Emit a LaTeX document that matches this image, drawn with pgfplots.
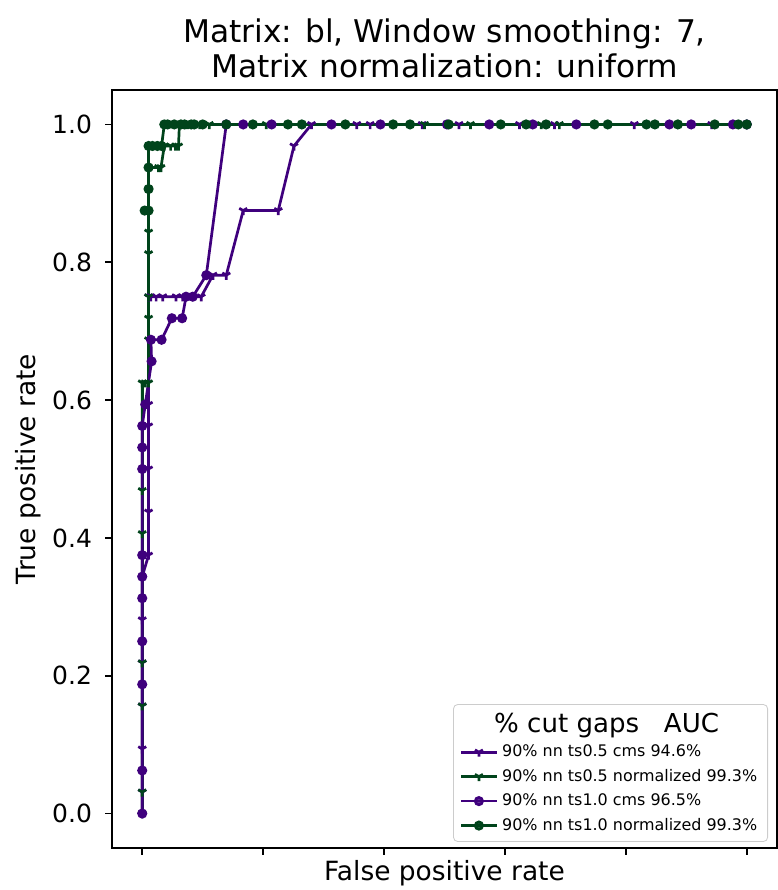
\documentclass[border=0pt]{standalone}
\usepackage{fontspec}
\setmainfont{DejaVu Sans}
\usepackage{pgfplots}
\pgfplotsset{compat=1.18}
\usetikzlibrary{plotmarks}
\definecolor{cpurple}{HTML}{3F007D}
\definecolor{cgreen}{HTML}{00441B}
\begin{document}
\begin{tikzpicture}
\useasboundingbox (-53.76pt,-20.16pt) rectangle (319.68pt,407.04pt);
\begin{axis}[
  at={(0,0)}, anchor=south west,
  scale only axis, width=319.2pt, height=363.84pt,
  xmin=-0.05, xmax=1.05, ymin=-0.05, ymax=1.05,
  xtick={0,0.2,0.4,0.6,0.8,1}, xticklabels={},
  ytick={0,0.2,0.4,0.6,0.8,1},
  /pgf/number format/assume math mode=true,
  yticklabel style={/pgf/number format/fixed, /pgf/number format/fixed zerofill, /pgf/number format/precision=1, font=\fontsize{12}{14}\selectfont, inner sep=0pt, xshift=-6.2pt},
  tick align=outside, tick pos=left, major tick length=3.2pt,
  every tick/.style={black, line width=0.8pt},
  axis line style={line width=0.8pt},
  title={Matrix: bl, Window smoothing: 7,\\Matrix normalization: uniform},
  title style={align=center, font=\fontsize{15}{16.8}\selectfont, at={(0.5,1)}, anchor=south, yshift=-0.2pt, inner sep=0pt},
  xlabel={False positive rate},
  xlabel style={at={(axis description cs:0.5,0)}, anchor=center, yshift=-12pt, font=\fontsize{12.7}{15}\selectfont},
  ylabel={True positive rate},
  ylabel style={at={(axis description cs:-0.1263,0.5)}, anchor=center, font=\fontsize{12.7}{15}\selectfont},
  legend style={at={(0.9865,0.008)}, anchor=south east, draw=black!20, rounded corners=2pt, fill=white, fill opacity=0.8, text opacity=1, font=\fontsize{7.65}{9}\selectfont, row sep=0.5pt},
  legend cell align=left,
  every axis plot/.append style={line width=1.3pt},
  tri/.style={mark=Mercedes star flipped, mark size=2.2pt},
  circ/.style={mark=*, mark size=1.75pt},
]
% lower part of green circle series (drawn first)
\addplot[cgreen, forget plot] coordinates {(0,0) (0,0.625) (0.0105,0.625) (0.0105,0.875)};
% ts0.5 cms
\addplot[cpurple, tri, forget plot] coordinates {
(0,0) (0,0.03125) (0,0.09375) (0,0.15625) (0,0.21875) (0,0.28125) (0,0.34375)
(0.0105,0.375) (0.0105,0.4375) (0.0105,0.5) (0.0105,0.5625) (0.0105,0.59375) (0.0105,0.75)
(0.014,0.75) (0.023,0.75) (0.034,0.75) (0.056,0.75) (0.067,0.75) (0.0975,0.75)
(0.117,0.78125) (0.139,0.78125) (0.167,0.875) (0.225,0.875) (0.251,0.96875) (0.28,1)
(0.355,1) (0.377,1) (0.463,1) (0.524,1) (0.624,1) (0.682,1) (0.814,1) (0.942,1) (1,1)};
% ts0.5 normalized
\addplot[cgreen, tri, forget plot] coordinates {
(0,0) (0,0.03125) (0,0.15625) (0,0.21875) (0,0.40625) (0,0.46875) (0,0.625) (0.005,0.625)
(0.0105,0.625) (0.0105,0.6875) (0.0105,0.71875) (0.0105,0.75) (0.0105,0.8125) (0.0105,0.84375)
(0.0105,0.90625) (0.0105,0.9375) (0.027,0.9375) (0.031,0.9375) (0.0365,0.96875) (0.047,0.96875)
(0.055,0.96875) (0.060,0.96875) (0.0615,1) (0.075,1) (0.095,1) (0.111,1) (0.205,1) (0.467,1)
(0.543,1) (0.66,1) (0.69,1) (1,1)};
% ts1.0 cms
\addplot[cpurple, circ, forget plot] coordinates {
(0,0) (0,0.0625) (0,0.1875) (0,0.25) (0,0.3125) (0,0.34375) (0,0.375) (0,0.5) (0,0.53125)
(0,0.5625) (0.005,0.59375) (0.0155,0.65625) (0.0144,0.6875) (0.032,0.6875) (0.049,0.71875)
(0.066,0.71875) (0.0725,0.75) (0.0836,0.75) (0.106,0.78125) (0.139,1) (0.167,1) (0.214,1)
(0.313,1) (0.394,1) (0.504,1) (0.574,1) (0.646,1) (0.718,1) (0.872,1) (0.908,1) (0.977,1) (1,1)};
% ts1.0 normalized (upper part)
\addplot[cgreen, circ, forget plot] coordinates {
(0.004,0.875) (0.0105,0.875) (0.0105,0.90625) (0.0105,0.9375) (0.0105,0.96875) (0.017,0.96875)
(0.025,0.96875) (0.032,0.96875) (0.0365,1) (0.042,1) (0.053,1) (0.064,1) (0.07,1) (0.081,1)
(0.086,1) (0.1,1) (0.139,1) (0.183,1) (0.241,1) (0.264,1) (0.336,1) (0.415,1) (0.443,1)
(0.507,1) (0.593,1) (0.635,1) (0.668,1) (0.748,1) (0.77,1) (0.834,1) (0.848,1) (0.886,1)
(0.947,1) (0.986,1) (1,1)};
\addlegendimage{empty legend}
\addlegendentry{\hspace*{-3.84pt}\fontsize{12.5}{15}\selectfont\%~cut~gaps~~~AUC}
\addlegendimage{cpurple, line width=1.3pt, mark=Mercedes star flipped, mark size=2.2pt}
\addlegendentry{90\% nn ts0.5 cms 94.6\%}
\addlegendimage{cgreen, line width=1.3pt, mark=Mercedes star flipped, mark size=2.2pt}
\addlegendentry{90\% nn ts0.5 normalized 99.3\%}
\addlegendimage{cpurple, line width=1.3pt, mark=*, mark size=1.75pt}
\addlegendentry{90\% nn ts1.0 cms 96.5\%}
\addlegendimage{cgreen, line width=1.3pt, mark=*, mark size=1.75pt}
\addlegendentry{90\% nn ts1.0 normalized 99.3\%}
\end{axis}
\end{tikzpicture}
\end{document}
